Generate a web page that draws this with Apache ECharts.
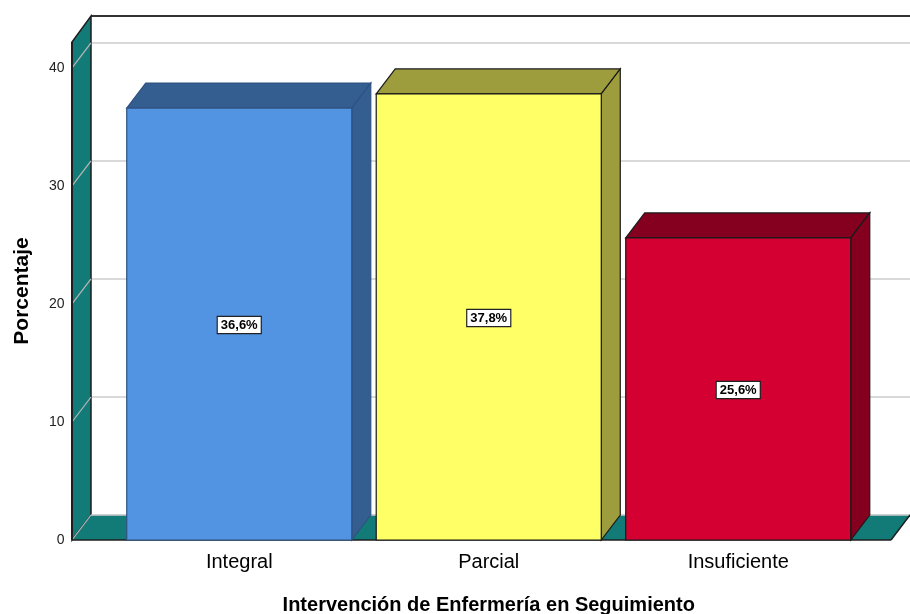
<!DOCTYPE html>
<html>
<head>
<meta charset="utf-8">
<script src="https://cdn.jsdelivr.net/npm/echarts@6/dist/echarts.min.js"></script>
<style>html,body{margin:0;padding:0;background:#fff}#c{width:910px;height:614px}</style>
</head>
<body>
<div id="c"></div>
<script>
// ---- data ----
const categories = ['Integral', 'Parcial', 'Insuficiente'];
const values = [36.6, 37.8, 25.6];
const valueLabels = ['36,6%', '37,8%', '25,6%'];
const yTicks = [0, 10, 20, 30, 40];
const yTitle = 'Porcentaje';
const xTitle = 'Intervención de Enfermería en Seguimiento';

// ---- style ----
const frontColors = ['#5394E2', '#FFFF66', '#D50032'];
const darkColors = ['#345D90', '#9D9D3D', '#85001F'];
const strokeColors = ['#2f5282', '#1a1a1a', '#1a1a1a'];
const TEAL = '#137B77';
const Y_MAX = 42.2;
const DX = 19, DY = 25;
const BAR_RATIO = 0.902;
const WALL_LEFT = 42.5, WALL_RIGHT = 28;
const FONT = '"Liberation Sans", Arial, sans-serif';

const chart = echarts.init(document.getElementById('c'), null, {renderer: 'canvas'});

function renderDecor(params, api) {
  const cs = params.coordSys;
  const L = cs.x - WALL_LEFT, R = cs.x + cs.width + WALL_RIGHT;
  const y0 = api.coord([0, 0])[1];
  const yT = api.coord([0, Y_MAX])[1];
  const ch = [];
  ch.push({type: 'rect', shape: {x: L + DX, y: yT - DY - 1, width: R - L + 40, height: y0 - yT}, style: {fill: '#fff'}});
  yTicks.forEach(t => {
    const y = api.coord([0, t])[1];
    ch.push({type: 'line', shape: {x1: L + DX, y1: y - DY, x2: R + DX + 40, y2: y - DY}, style: {stroke: '#cccccc', lineWidth: 1.5}});
  });
  ch.push({type: 'line', shape: {x1: L + DX, y1: yT - DY - 1, x2: R + DX + 40, y2: yT - DY - 1}, style: {stroke: '#333', lineWidth: 2}});
  ch.push({type: 'polygon', shape: {points: [[L, y0], [L, yT], [L + DX, yT - DY - 1], [L + DX, y0 - DY]]}, style: {fill: TEAL, stroke: '#1e1e1e', lineWidth: 1.5}});
  ch.push({type: 'polygon', shape: {points: [[L, y0], [L + DX, y0 - DY], [R + DX, y0 - DY], [R, y0]]}, style: {fill: TEAL}});
  yTicks.forEach(t => {
    const y = api.coord([0, t])[1];
    ch.push({type: 'line', shape: {x1: L, y1: y, x2: L + DX, y2: y - DY}, style: {stroke: '#b8b8b8', lineWidth: 1.2}});
  });
  ch.push({type: 'line', shape: {x1: L + DX, y1: y0 - DY, x2: R + DX, y2: y0 - DY}, style: {stroke: '#cccccc', lineWidth: 1.5}});
  ch.push({type: 'line', shape: {x1: L, y1: y0, x2: R, y2: y0}, style: {stroke: '#1e1e1e', lineWidth: 1.5}});
  ch.push({type: 'line', shape: {x1: R, y1: y0, x2: R + DX, y2: y0 - DY}, style: {stroke: '#1e1e1e', lineWidth: 1.5}});
  ch.push({type: 'line', shape: {x1: L, y1: y0, x2: L, y2: yT}, style: {stroke: '#1e1e1e', lineWidth: 2}});
  return {type: 'group', children: ch};
}

function renderBar(params, api) {
  const i = params.dataIndex;
  const p0 = api.coord([api.value(0), 0]);
  const pt = api.coord([api.value(0), api.value(1)]);
  const w = api.size([1, 0])[0] * BAR_RATIO;
  const x0 = p0[0] - w / 2, x1 = x0 + w;
  const yb = p0[1], yt = pt[1];
  const st = {stroke: strokeColors[i], lineWidth: 1.2};
  return {type: 'group', children: [
    {type: 'polygon', shape: {points: [[x0, yt], [x0 + DX, yt - DY], [x1 + DX, yt - DY], [x1, yt]]}, style: Object.assign({fill: darkColors[i]}, st)},
    {type: 'polygon', shape: {points: [[x1, yt], [x1 + DX, yt - DY], [x1 + DX, yb - DY], [x1, yb]]}, style: Object.assign({fill: darkColors[i]}, st)},
    {type: 'rect', shape: {x: x0, y: yt, width: w, height: yb - yt}, style: Object.assign({fill: frontColors[i]}, st)},
    {type: 'text', x: (x0 + x1) / 2, y: (yt + yb) / 2 + 1, style: {
      text: valueLabels[i], align: 'center', verticalAlign: 'middle',
      font: 'bold 13px "Liberation Sans Narrow", "Liberation Sans", Arial, sans-serif',
      fill: '#000', backgroundColor: '#fff', borderColor: '#222', borderWidth: 1.2, padding: [2, 3, 1, 3]
    }}
  ]};
}

chart.setOption({
  animation: false,
  backgroundColor: '#fff',
  grid: {left: 114.5, right: 47, top: 42, bottom: 74, containLabel: false, outerBoundsMode: 'none'},
  xAxis: {
    type: 'category', data: categories,
    axisLine: {show: false}, axisTick: {show: false}, splitLine: {show: false},
    axisLabel: {fontSize: 20, color: '#000', margin: 12, fontFamily: FONT},
    name: xTitle, nameLocation: 'middle', nameGap: 55,
    nameTextStyle: {fontSize: 20, fontWeight: 'bold', color: '#000', fontFamily: FONT}
  },
  yAxis: {
    type: 'value', min: 0, max: Y_MAX, interval: 10,
    axisLine: {show: false}, axisTick: {show: false}, splitLine: {show: false},
    axisLabel: {fontSize: 14, color: '#222', margin: 50, fontFamily: FONT, padding: [5, 0, 0, 0],
      formatter: v => (yTicks.indexOf(v) >= 0 ? String(v) : '')},
    name: yTitle, nameLocation: 'middle', nameGap: 82,
    nameTextStyle: {fontSize: 21, fontWeight: 'bold', color: '#000', fontFamily: FONT}
  },
  series: [
    {type: 'custom', renderItem: renderDecor, data: [[0, 0]], silent: true, z: 1},
    {type: 'custom', renderItem: renderBar, data: categories.map((c, i) => [i, values[i]]), z: 2}
  ]
});
</script>
</body>
</html>
